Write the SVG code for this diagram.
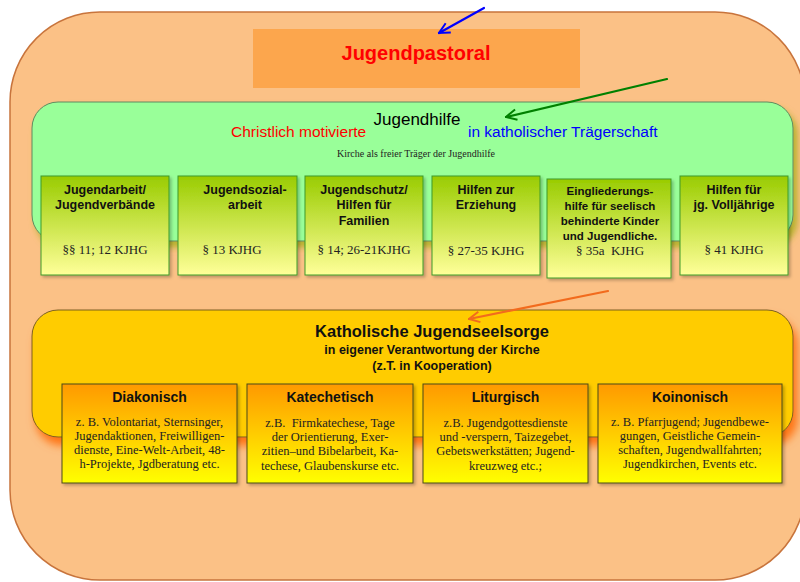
<svg xmlns="http://www.w3.org/2000/svg" width="800" height="582" viewBox="0 0 800 582">
<defs>
<linearGradient id="gGreen" x1="0" y1="0" x2="0" y2="1"><stop offset="0" stop-color="#99CC00"/><stop offset="1" stop-color="#FFFF99"/></linearGradient>
<linearGradient id="gYellow" x1="0" y1="0" x2="0" y2="1"><stop offset="0" stop-color="#FF9900"/><stop offset="1" stop-color="#FFFF00"/></linearGradient>
<filter id="shGreen" x="-5%" y="-10%" width="115%" height="130%"><feDropShadow dx="4" dy="6" stdDeviation="3" flood-color="#B0B020" flood-opacity="0.9"/></filter>
<filter id="shOrange" x="-5%" y="-10%" width="115%" height="135%"><feDropShadow dx="4" dy="8" stdDeviation="4" flood-color="#FF6600" flood-opacity="0.85"/></filter>
<filter id="shSmall" x="-10%" y="-10%" width="125%" height="125%"><feDropShadow dx="2" dy="2" stdDeviation="1.5" flood-color="#000000" flood-opacity="0.25"/></filter>
<marker id="mBlue" viewBox="0 0 10 10" refX="9" refY="5" markerWidth="6" markerHeight="6" orient="auto" markerUnits="strokeWidth"><path d="M1,1 L9,5 L1,9" fill="none" stroke="#0000FF" stroke-width="1.5"/></marker>
<marker id="mGreen" viewBox="0 0 10 10" refX="9" refY="5" markerWidth="6" markerHeight="6" orient="auto" markerUnits="strokeWidth"><path d="M1,1 L9,5 L1,9" fill="none" stroke="#008000" stroke-width="1.5"/></marker>
<marker id="mOrange" viewBox="0 0 10 10" refX="9" refY="5" markerWidth="6" markerHeight="6" orient="auto" markerUnits="strokeWidth"><path d="M1,1 L9,5 L1,9" fill="none" stroke="#F26B1D" stroke-width="1.5"/></marker>
</defs>
<style>
.sans{font-family:"Liberation Sans",Arial,sans-serif}
.serif{font-family:"Liberation Serif","Times New Roman",serif}
.gsub{fill:url(#gGreen);stroke:#3E9A2A;stroke-width:1}
.ysub{fill:url(#gYellow);stroke:#4A4A1A;stroke-width:1}
.gt{font-family:"Liberation Sans",Arial,sans-serif;font-weight:bold;font-size:12.5px;fill:#111;text-anchor:middle}
.gt2{font-family:"Liberation Sans",Arial,sans-serif;font-weight:bold;font-size:11.5px;fill:#111;text-anchor:middle}
.par{font-family:"Liberation Serif","Times New Roman",serif;font-size:13px;fill:#222;text-anchor:middle}
.yt{font-family:"Liberation Sans",Arial,sans-serif;font-weight:bold;font-size:14px;fill:#111;text-anchor:middle}
.yb{font-family:"Liberation Serif","Times New Roman",serif;font-size:12.5px;fill:#222;text-anchor:middle}
</style>

<g id="outer">
<rect x="10" y="12" width="795" height="568" rx="90" ry="90" fill="#FBC186" stroke="#C8743C" stroke-width="1.5"/>
</g>

<g id="jugendpastoral">
<rect x="253" y="29" width="327" height="59" fill="#FCA64D"/>
<text x="416" y="60" class="sans" font-size="20" font-weight="bold" fill="#FF0000" text-anchor="middle">Jugendpastoral</text>
</g>

<g id="jugendhilfe">
<rect x="32" y="102" width="761" height="139" rx="26" ry="26" fill="#99FF99" stroke="#5E8A5E" stroke-width="1" filter="url(#shGreen)"/>
<text x="417" y="125" class="sans" font-size="17" fill="#000" text-anchor="middle">Jugendhilfe</text>
<text x="231" y="137" class="sans" font-size="15.5" fill="#FF0000">Christlich motivierte</text>
<text x="468" y="137" class="sans" font-size="15.5" fill="#0000FF">in katholischer Trägerschaft</text>
<text x="416" y="157" class="serif" font-size="10" fill="#222" text-anchor="middle">Kirche als freier Träger der Jugendhilfe</text>
</g>

<g id="jugendarbeit">
<rect x="41" y="176" width="128" height="99" class="gsub" filter="url(#shSmall)"/>
<text x="105" y="194" class="gt">Jugendarbeit/</text>
<text x="105" y="209" class="gt">Jugendverbände</text>
<text x="105" y="254" class="par">§§ 11; 12 KJHG</text>
</g>

<g id="jugendsozialarbeit">
<rect x="178" y="176" width="119" height="99" class="gsub" filter="url(#shSmall)"/>
<text x="245" y="194" class="gt">Jugendsozial-</text>
<text x="245" y="209" class="gt">arbeit</text>
<text x="232" y="254" class="par">§ 13 KJHG</text>
</g>

<g id="jugendschutz">
<rect x="305" y="176" width="118" height="99" class="gsub" filter="url(#shSmall)"/>
<text x="364" y="194" class="gt">Jugendschutz/</text>
<text x="364" y="209" class="gt">Hilfen für</text>
<text x="364" y="225" class="gt">Familien</text>
<text x="364" y="254" class="par">§ 14; 26-21KJHG</text>
</g>

<g id="hilfen-erziehung">
<rect x="432" y="176" width="108" height="99" class="gsub" filter="url(#shSmall)"/>
<text x="486" y="194" class="gt">Hilfen zur</text>
<text x="486" y="209" class="gt">Erziehung</text>
<text x="486" y="255" class="par">§ 27-35 KJHG</text>
</g>

<g id="eingliederungshilfe">
<rect x="547" y="179" width="124" height="99" class="gsub" filter="url(#shSmall)"/>
<text x="610" y="195" class="gt2">Eingliederungs-</text>
<text x="610" y="210" class="gt2">hilfe für seelisch</text>
<text x="610" y="225" class="gt2">behinderte Kinder</text>
<text x="610" y="240" class="gt2">und Jugendliche.</text>
<text x="610" y="255" class="par" xml:space="preserve">§ 35a  KJHG</text>
</g>

<g id="volljaehrige">
<rect x="680" y="176" width="108" height="99" class="gsub" filter="url(#shSmall)"/>
<text x="734" y="194" class="gt">Hilfen für</text>
<text x="734" y="209" class="gt">jg. Volljährige</text>
<text x="734" y="254" class="par">§ 41 KJHG</text>
</g>

<g id="jugendseelsorge">
<rect x="32" y="310" width="761" height="127" rx="26" ry="26" fill="#FFCC00" stroke="#7A6020" stroke-width="1" filter="url(#shOrange)"/>
<text x="432" y="337" class="sans" font-size="16.5" font-weight="bold" fill="#111" text-anchor="middle">Katholische Jugendseelsorge</text>
<text x="432" y="354" class="sans" font-size="12.5" font-weight="bold" fill="#111" text-anchor="middle">in eigener Verantwortung der Kirche</text>
<text x="432" y="370" class="sans" font-size="12.5" font-weight="bold" fill="#111" text-anchor="middle">(z.T. in Kooperation)</text>
</g>

<g id="diakonisch">
<rect x="62" y="384" width="175" height="99" class="ysub" filter="url(#shSmall)"/>
<text x="149.5" y="402" class="yt">Diakonisch</text>
<text x="149.5" y="426" class="yb">z. B. Volontariat, Sternsinger,</text>
<text x="149.5" y="440" class="yb">Jugendaktionen, Freiwilligen-</text>
<text x="149.5" y="454" class="yb">dienste, Eine-Welt-Arbeit, 48-</text>
<text x="149.5" y="468" class="yb">h-Projekte, Jgdberatung etc.</text>
</g>

<g id="katechetisch">
<rect x="247" y="384" width="166" height="99" class="ysub" filter="url(#shSmall)"/>
<text x="330" y="402" class="yt">Katechetisch</text>
<text x="330" y="427" class="yb" xml:space="preserve">z.B.  Firmkatechese, Tage</text>
<text x="330" y="441" class="yb">der Orientierung, Exer-</text>
<text x="330" y="455" class="yb">zitien–und Bibelarbeit, Ka-</text>
<text x="330" y="470" class="yb">techese, Glaubenskurse etc.</text>
</g>

<g id="liturgisch">
<rect x="423" y="384" width="165" height="99" class="ysub" filter="url(#shSmall)"/>
<text x="505.5" y="402" class="yt">Liturgisch</text>
<text x="505.5" y="427" class="yb">z.B. Jugendgottesdienste</text>
<text x="505.5" y="441" class="yb">und -verspern, Taizegebet,</text>
<text x="505.5" y="455" class="yb">Gebetswerkstätten; Jugend-</text>
<text x="505.5" y="470" class="yb">kreuzweg etc.;</text>
</g>

<g id="koinonisch">
<rect x="598" y="384" width="184" height="99" class="ysub" filter="url(#shSmall)"/>
<text x="690" y="402" class="yt">Koinonisch</text>
<text x="690" y="426" class="yb">z. B. Pfarrjugend; Jugendbewe-</text>
<text x="690" y="440" class="yb">gungen, Geistliche Gemein-</text>
<text x="690" y="454" class="yb">schaften, Jugendwallfahrten;</text>
<text x="690" y="468" class="yb">Jugendkirchen, Events etc.</text>
</g>

<g id="connectors" fill="none" stroke-width="2.2" stroke-linecap="round">
<line x1="484" y1="8" x2="439" y2="33" stroke="#0000FF" marker-end="url(#mBlue)"/>
<line x1="667" y1="79" x2="506" y2="117" stroke="#008000" marker-end="url(#mGreen)"/>
<line x1="608" y1="291" x2="469" y2="319" stroke="#F26B1D" marker-end="url(#mOrange)"/>
</g>
</svg>
